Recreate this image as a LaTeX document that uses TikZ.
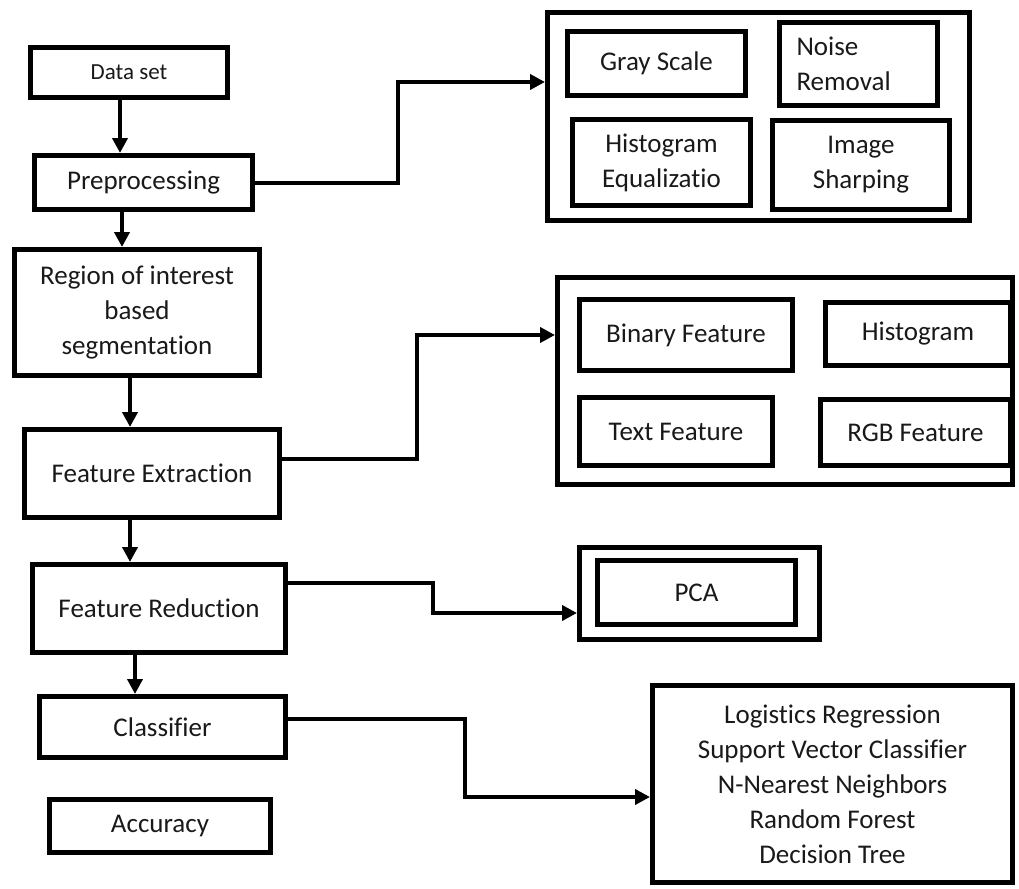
\documentclass[tikz,border=0pt]{standalone}
\usepackage{fontspec}
\setmainfont{Carlito}[RawFeature={-liga;-dlig;-clig}]
\usetikzlibrary{arrows.meta}
\begin{document}
\begin{tikzpicture}[x=1pt,y=-1pt,
  box/.style={draw,line width=5pt,inner sep=0pt,align=center,text=black!90,
    font=\fontsize{27}{35}\selectfont},
  arr/.style={line width=4pt,-{Triangle[length=15pt,width=15pt]}},
]
\useasboundingbox (0,0) rectangle (1019,888);
% main column
\node[box,minimum width=197pt,minimum height=50pt,font=\fontsize{23}{30}\selectfont] (data) at (129,72.5) {Data set};
\node[box,minimum width=218pt,minimum height=54pt] (prep) at (143.5,182.5) {Preprocessing};
\node[box,minimum width=245pt,minimum height=126pt] (roi) at (137,312.5) {Region of interest\\based\\segmentation};
\node[box,minimum width=255pt,minimum height=88pt] (fe) at (152,473.5) {Feature Extraction};
\node[box,minimum width=253pt,minimum height=88pt] (fr) at (159,608.5) {Feature Reduction};
\node[box,minimum width=246pt,minimum height=61pt] (cls) at (162.5,727) {Classifier};
\node[box,minimum width=221pt,minimum height=53pt] (acc) at (160,826) {Accuracy};
% preprocessing group
\node[box,minimum width=422pt,minimum height=208pt] (pg) at (758.5,116.5) {};
\node[box,minimum width=178pt,minimum height=64pt] (gs) at (656.5,63.5) {Gray Scale};
\node[box,minimum width=158pt,minimum height=83pt,text width=124pt,align=left] (nr) at (858.5,64) {Noise\\Removal};
\node[box,minimum width=178pt,minimum height=86pt] (he) at (661.5,162.5) {Histogram\\Equalizatio};
\node[box,minimum width=177pt,minimum height=89pt] (is) at (861,165) {Image\\Sharping};
% feature group
\node[box,minimum width=455pt,minimum height=207pt] (fg) at (785,381) {};
\node[box,minimum width=213pt,minimum height=71pt] (bf) at (686,335) {Binary Feature};
\node[box,minimum width=185pt,minimum height=63pt] (hi) at (918,334) {Histogram};
\node[box,minimum width=193pt,minimum height=68pt] (tf) at (676,431.5) {Text Feature};
\node[box,minimum width=190pt,minimum height=66pt] (rgb) at (915.5,432.5) {RGB Feature};
% PCA
\node[box,minimum width=240pt,minimum height=92pt] (pcao) at (699.5,593.5) {};
\node[box,minimum width=198pt,minimum height=64pt] (pca) at (696.5,592.5) {PCA};
% classifiers
\node[box,minimum width=360pt,minimum height=197pt] (list) at (832.5,784) {Logistics Regression\\Support Vector Classifier\\N-Nearest Neighbors\\Random Forest\\Decision Tree};
% vertical arrows
\draw[arr] ([xshift=-9pt]data.south) -- ([xshift=-9pt]data.south |- prep.north);
\draw[arr] ([xshift=-21.5pt]prep.south) -- ([xshift=-21.5pt]prep.south |- roi.north);
\draw[arr] ([xshift=-7pt]roi.south) -- ([xshift=-7pt]roi.south |- fe.north);
\draw[arr] ([xshift=-22pt]fe.south) -- ([xshift=-22pt]fe.south |- fr.north);
\draw[arr] ([xshift=-24pt]fr.south) -- ([xshift=-24pt]fr.south |- cls.north);
% side connectors
\coordinate (a1) at (398,182.5);
\coordinate (a2) at (398,82);
\draw[arr] (prep.east |- a1) -- (a1) -- (a2) -- (pg.west |- a2);
\coordinate (b1) at (417,459);
\coordinate (b2) at (417,335);
\draw[arr] (fe.east |- b1) -- (b1) -- (b2) -- (fg.west |- b2);
\coordinate (c1) at (433,583);
\coordinate (c2) at (433,613);
\draw[arr] (fr.east |- c1) -- (c1) -- (c2) -- (pcao.west |- c2);
\coordinate (d1) at (465,719);
\coordinate (d2) at (465,797);
\draw[arr] (cls.east |- d1) -- (d1) -- (d2) -- (list.west |- d2);
\end{tikzpicture}
\end{document}
